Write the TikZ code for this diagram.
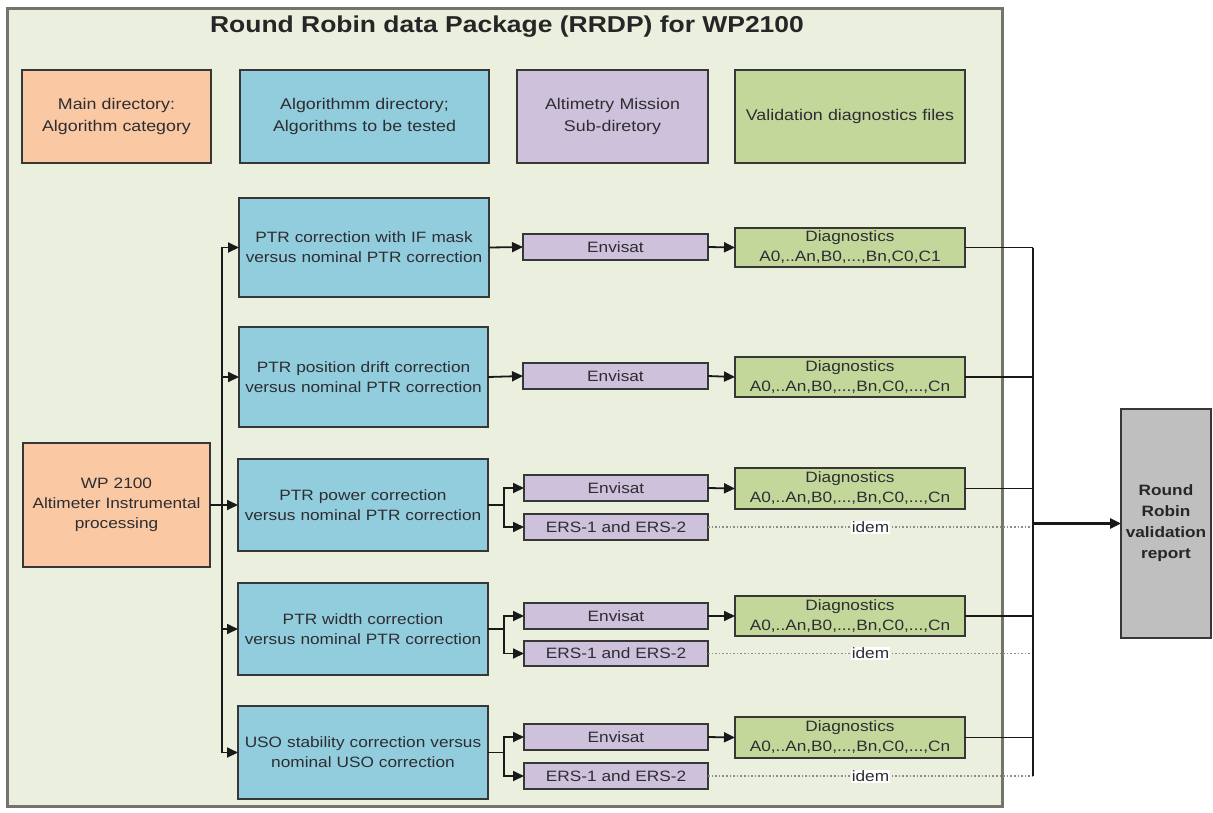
\documentclass[tikz,border=0pt]{standalone}
\usepackage{fontspec}
\setmainfont{Liberation Sans}[FakeStretch=1.15]
\usetikzlibrary{arrows.meta}
\definecolor{bgc}{RGB}{235,240,222}
\definecolor{orng}{RGB}{250,200,162}
\definecolor{blu}{RGB}{146,205,221}
\definecolor{purp}{RGB}{205,193,219}
\definecolor{grn}{RGB}{196,215,155}
\definecolor{gryb}{RGB}{191,191,191}
\definecolor{bord}{RGB}{55,55,55}
\definecolor{txt}{RGB}{45,45,50}
\definecolor{frame}{RGB}{115,117,108}
\newcommand{\bx}[7]{\node[#2, minimum width={#5pt-#3pt}, minimum height={#6pt-#4pt}, text width={#5pt-#3pt-6pt}] (#1) at ({(#3+#5)/2},{(#4+#6)/2}) {#7};}
\tikzset{
  base/.style={draw=bord, line width=2pt, inner sep=0pt, outer sep=0pt, align=center, text=txt, font=\fontsize{15}{20}\selectfont},
  hdr/.style={base, font=\fontsize{15.5}{21.5}\selectfont},
  orbox/.style={base, fill=orng},
  blbox/.style={base, fill=blu},
  pubox/.style={base, fill=purp},
  grbox/.style={base, fill=grn},
  rpbox/.style={base, fill=gryb, text=black!85, font=\bfseries\fontsize{15}{21}\selectfont},
  conn/.style={line width=1.8pt, draw=black!90},
  arr/.style={conn, -{Triangle[length=11pt,width=10pt]}},
  dotl/.style={line width=1.6pt, draw=black!45, dotted},
  idemlbl/.style={fill=white, inner sep=1pt, text=txt, font=\fontsize{15}{18}\selectfont}
}
\begin{document}
\begin{tikzpicture}[x=1pt,y=-1pt]
\useasboundingbox (0,0) rectangle (1213,812);
\fill[white] (0,0) rectangle (1213,812);
% container
\node[draw=frame, fill=bgc, line width=3pt, inner sep=0pt, outer sep=0pt, minimum width=995pt, minimum height=798pt] (pkg) at (504.5,407) {};
\node[font=\bfseries\fontsize{23}{27}\selectfont, text=black!85] (title) at (507,27) {Round Robin data Package (RRDP) for WP2100};
% headers
\bx{h1}{orbox,hdr}{22}{70}{211}{163}{Main directory:\\Algorithm category}
\bx{h2}{blbox,hdr}{240}{70}{489}{163}{Algorithmm directory;\\Algorithms to be tested}
\bx{h3}{pubox,hdr}{517}{70}{708}{163}{Altimetry Mission\\Sub-diretory}
\bx{h4}{grbox,hdr}{735}{70}{965}{163}{Validation diagnostics files}
% main
\bx{wp}{orbox}{23}{443}{210}{567}{WP 2100\\Altimeter Instrumental\\processing}
% algorithms
\bx{a1}{blbox}{239}{198}{489}{297}{PTR correction with IF mask\\versus nominal PTR correction}
\bx{a2}{blbox}{239}{327}{488}{427}{PTR position drift correction\\versus nominal PTR correction}
\bx{a3}{blbox}{238}{459}{488}{551}{PTR power correction\\versus nominal PTR correction}
\bx{a4}{blbox}{238}{583}{488}{675}{PTR width correction\\versus nominal PTR correction}
\bx{a5}{blbox}{238}{706}{488}{799}{USO stability correction versus\\nominal USO correction}
% missions
\bx{e1}{pubox}{523}{234}{708}{260}{Envisat}
\bx{e2}{pubox}{523}{363}{708}{389}{Envisat}
\bx{e3}{pubox}{524}{475}{708}{501}{Envisat}
\bx{r3}{pubox}{524}{514}{708}{540}{ERS-1 and ERS-2}
\bx{e4}{pubox}{524}{603}{708}{629}{Envisat}
\bx{r4}{pubox}{524}{641}{708}{666}{ERS-1 and ERS-2}
\bx{e5}{pubox}{524}{724}{708}{750}{Envisat}
\bx{r5}{pubox}{524}{763}{708}{789}{ERS-1 and ERS-2}
% diagnostics
\bx{d1}{grbox}{735}{228}{965}{267}{Diagnostics\\A0,..An,B0,...,Bn,C0,C1}
\bx{d2}{grbox}{735}{357}{965}{397}{Diagnostics\\A0,..An,B0,...,Bn,C0,...,Cn}
\bx{d3}{grbox}{735}{468}{965}{509}{Diagnostics\\A0,..An,B0,...,Bn,C0,...,Cn}
\bx{d4}{grbox}{735}{596}{965}{636}{Diagnostics\\A0,..An,B0,...,Bn,C0,...,Cn}
\bx{d5}{grbox}{735}{717}{965}{758}{Diagnostics\\A0,..An,B0,...,Bn,C0,...,Cn}
% report
\bx{rep}{rpbox}{1121}{409}{1211}{638}{Round\\Robin\\validation\\report}
% bus from WP
\draw[arr] (wp.east) -- (a3.west);
\draw[arr] (wp.east) -- ++(12,0) |- (a1.west);
\draw[arr] (wp.east) -- ++(12,0) |- (a2.west);
\draw[arr] (wp.east) -- ++(12,0) |- (a4.west);
\draw[arr] (wp.east) -- ++(12,0) |- (a5.west);
% algorithms to missions
\draw[arr] (a1.east) -- (e1.west);
\draw[arr] (a2.east) -- (e2.west);
\draw[arr] (a3.east) -- ++(16,0) |- (e3.west);
\draw[arr] (a3.east) -- ++(16,0) |- (r3.west);
\draw[arr] (a4.east) -- ++(16,0) |- (e4.west);
\draw[arr] (a4.east) -- ++(16,0) |- (r4.west);
\draw[arr] (a5.east) -- ++(16,0) |- (e5.west);
\draw[arr] (a5.east) -- ++(16,0) |- (r5.west);
% missions to diagnostics
\draw[arr] (e1.east) -- (d1.west);
\draw[arr] (e2.east) -- (d2.west);
\draw[arr] (e3.east) -- (d3.west);
\draw[arr] (e4.east) -- (d4.west);
\draw[arr] (e5.east) -- (d5.west);
% collector
\coordinate (colx) at (1033,0);
\draw[dotl] (r3.east) -- (r3.east -| colx) node[pos=0.5, idemlbl] {idem};
\draw[dotl] (r4.east) -- (r4.east -| colx) node[pos=0.5, idemlbl] {idem};
\draw[dotl] (r5.east) -- (r5.east -| colx) node[pos=0.5, idemlbl] {idem};
\draw[conn] (d1.east) -- (d1.east -| colx);
\draw[conn] (d2.east) -- (d2.east -| colx);
\draw[conn] (d3.east) -- (d3.east -| colx);
\draw[conn] (d4.east) -- (d4.east -| colx);
\draw[conn] (d5.east) -- (d5.east -| colx);
\draw[conn, line width=2.2pt] (colx |- d1.east) -- (colx |- r5.east);
\draw[arr, line width=2.6pt] (colx |- rep.west) -- (rep.west);
\end{tikzpicture}
\end{document}
